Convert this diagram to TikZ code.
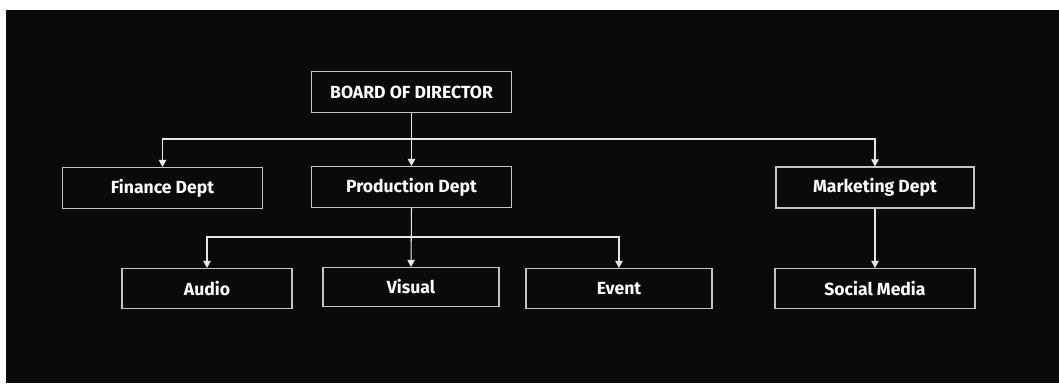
\documentclass[tikz,border=0pt]{standalone}
\usepackage{fontspec}
\setmainfont{Fira Sans}
\usetikzlibrary{arrows.meta}

\definecolor{bgblack}{HTML}{0A0A0A}
\definecolor{boxline}{HTML}{C4C4C4}
\definecolor{wireline}{HTML}{E6E6E6}

\begin{document}
\begin{tikzpicture}[x=0.02cm,y=-0.02cm,
    unit/.style={draw=boxline,line width=0.6pt,fill=bgblack,text=white,
        minimum width=4cm,minimum height=0.82cm,inner sep=0pt,
        font=\fontsize{10}{12}\selectfont\bfseries},
    link/.style={draw=wireline,line width=0.6pt,-{Triangle[width=4.2pt,length=4pt]}}]
    % page and dark panel
    \useasboundingbox[fill=white] (0,0) rectangle (1059,383);
    \fill[bgblack] (6,10) rectangle (1059,383);

    % top
    \node[unit] (board) at (411.5,92) {BOARD OF DIRECTOR};

    % departments
    \node[unit] (finance) at (162.5,188) {Finance Dept};
    \node[unit] (production) at (411.5,187) {Production Dept};
    \node[unit,minimum width=3.96cm] (marketing) at (875,187.5) {Marketing Dept};

    % units below
    \node[unit,minimum width=3.4cm,minimum height=0.8cm] (audio) at (207,288.5) {Audio};
    \node[unit,minimum width=3.52cm,minimum height=0.78cm] (visual) at (411,287) {Visual};
    \node[unit,minimum width=3.72cm,minimum height=0.8cm] (event) at (619,288.5) {Event};
    \node[unit,minimum height=0.8cm] (social) at (875,288.5) {Social Media};

    \coordinate (busA) at (411.5,139);
    \coordinate (busB) at (411.5,237);

    \draw[link] (board.south) -- (production.north);
    \draw[link] (busA) -| (finance.north);
    \draw[link] (busA) -| (marketing.north);

    \draw[link] (production.south) -- (visual.north);
    \foreach \n in {audio,event}
        \draw[link] (busB) -| (\n.north);

    \draw[link] (marketing.south) -- (social.north);
\end{tikzpicture}
\end{document}
